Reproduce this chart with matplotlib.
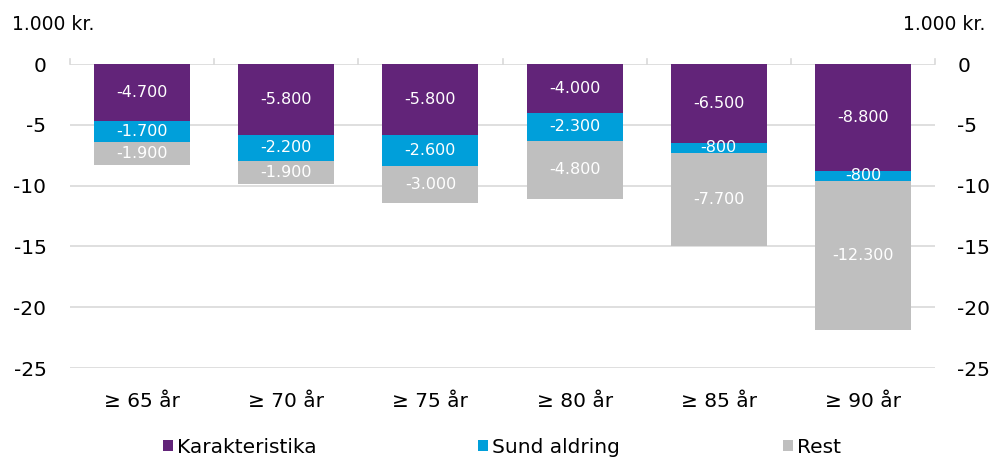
import matplotlib
matplotlib.use("Agg")
import matplotlib.pyplot as plt
import numpy as np
from matplotlib.patches import Patch

categories = ["≥ 65 år", "≥ 70 år", "≥ 75 år", "≥ 80 år", "≥ 85 år", "≥ 90 år"]
karakteristika = [-4.7, -5.8, -5.8, -4.0, -6.5, -8.8]
sund_aldring = [-1.7, -2.2, -2.6, -2.3, -0.8, -0.8]
rest = [-1.9, -1.9, -3.0, -4.8, -7.7, -12.3]
series_names = ["Karakteristika", "Sund aldring", "Rest"]
colors = ["#622479", "#009FDA", "#BFBFBF"]
yticks = [0, -5, -10, -15, -20, -25]

plt.rcParams["font.family"] = ["DejaVu Sans"]

fig = plt.figure(figsize=(9.97, 4.61), dpi=100)
ax = fig.add_axes([70 / 997, 1 - 368 / 461, 865 / 997, 304 / 461])

x = np.arange(len(categories))
width = 0.665
bottom = np.zeros(len(categories))
for vals, col in zip([karakteristika, sund_aldring, rest], colors):
    vals = np.array(vals)
    ax.bar(x, vals, width, bottom=bottom, color=col, zorder=3)
    for xi, b, v in zip(x, bottom, vals):
        label = f"{v * 1000:,.0f}".replace(",", ".")
        ax.text(xi, b + v / 2, label, ha="center", va="center",
                color="white", fontsize=11.5, zorder=4)
    bottom = bottom + vals

ax.set_xlim(-0.5, len(categories) - 0.5)
ax.set_ylim(-25, 0)
ax.set_yticks(yticks)
ax.set_yticklabels([str(t) for t in yticks])
ax.yaxis.grid(True, color="#D9D9D9", linewidth=1.2, zorder=0)
ax.tick_params(axis="y", length=0, labelsize=14.5, pad=17)
for s in ax.spines.values():
    s.set_visible(False)

# category boundary ticks on the zero line
ax.set_xticks(x)
ax.set_xticklabels(categories)
ax.tick_params(axis="x", length=0, labelsize=14.5, pad=17)
for b in np.arange(-0.5, len(categories), 1.0):
    ax.plot([b, b], [0, 0.4], color="#D9D9D9", linewidth=1.2,
            clip_on=False, zorder=2)

ax2 = ax.twinx()
ax2.set_ylim(-25, 0)
ax2.set_yticks(yticks)
ax2.set_yticklabels([str(t) for t in yticks])
ax2.tick_params(axis="y", length=0, labelsize=14.5, pad=16)
for s in ax2.spines.values():
    s.set_visible(False)

fig.text(12 / 997, 1 - 25 / 461, "1.000 kr.", fontsize=13.5, va="center", ha="left")
fig.text(985 / 997, 1 - 25 / 461, "1.000 kr.", fontsize=13.5, va="center", ha="right")

# legend entries placed individually along the bottom
legend_x = [163, 478, 783]
for name, col, lx in zip(series_names, colors, legend_x):
    leg = fig.legend([Patch(facecolor=col, edgecolor="none")], [name],
                     loc="center left", bbox_to_anchor=(lx / 997, 1 - 447 / 461),
                     frameon=False, fontsize=14.5, handlelength=0.5,
                     handleheight=0.5, handletextpad=0.2,
                     borderpad=0, borderaxespad=0)

fig.savefig("out.png", dpi=100)
